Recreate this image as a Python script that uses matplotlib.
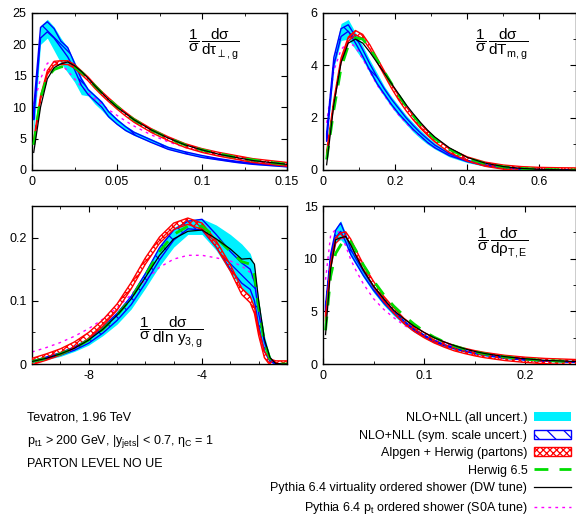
import matplotlib
matplotlib.use('Agg')
import matplotlib.pyplot as plt
from matplotlib.patches import Patch
from matplotlib.lines import Line2D
from matplotlib.ticker import MultipleLocator, FormatStrFormatter
import numpy as np

plt.rcParams['font.family'] = ['Liberation Sans', 'DejaVu Sans']
plt.rcParams['mathtext.fontset'] = 'custom'
plt.rcParams['mathtext.rm'] = 'Liberation Sans'
plt.rcParams['mathtext.it'] = 'Liberation Sans'
plt.rcParams['mathtext.sf'] = 'Liberation Sans'
plt.rcParams['mathtext.fallback'] = 'stixsans'
plt.rcParams['axes.unicode_minus'] = False
plt.rcParams['hatch.linewidth'] = 0.9

# ---- panel 1 : tau_perp,g
tau_x = [0.001, 0.005, 0.009, 0.013, 0.017, 0.021, 0.025, 0.029, 0.033, 0.037, 0.041, 0.045,
         0.05, 0.055, 0.06, 0.07, 0.08, 0.09, 0.1, 0.11, 0.12, 0.13, 0.14, 0.15]
tau_cyan_lo = [5.5, 20.0, 21.0, 19.0, 17.0, 15.5, 14.0, 12.0, 11.8, 10.5, 9.5, 8.3,
               7.2, 6.2, 5.5, 4.4, 3.3, 2.6, 2.0, 1.6, 1.2, 0.9, 0.7, 0.5]
tau_cyan_hi = [10.5, 23.0, 24.0, 22.8, 21.0, 19.5, 17.3, 14.8, 13.0, 12.0, 11.0, 9.5,
               8.2, 7.1, 6.2, 5.0, 3.8, 3.0, 2.4, 1.9, 1.5, 1.2, 0.9, 0.7]
tau_blue_lo = [8.0, 21.0, 22.0, 21.0, 19.5, 18.0, 16.0, 13.5, 12.0, 11.0, 10.0, 8.5,
               7.3, 6.3, 5.6, 4.4, 3.3, 2.6, 2.0, 1.6, 1.2, 0.9, 0.7, 0.5]
tau_blue_hi = [10.0, 22.7, 23.6, 22.5, 20.5, 19.5, 17.0, 14.5, 12.8, 11.8, 10.8, 9.3,
               8.0, 6.9, 6.0, 4.8, 3.6, 2.9, 2.3, 1.8, 1.4, 1.1, 0.9, 0.7]
tau_alpgen = [4.5, 11.5, 15.5, 17.0, 17.1, 17.1, 16.5, 15.5, 14.5, 13.3, 12.2, 11.2,
              10.0, 8.9, 7.9, 6.3, 5.0, 3.9, 3.1, 2.5, 2.0, 1.5, 1.2, 0.9]
tau_herwig = [4.0, 11.5, 14.8, 16.0, 16.4, 16.6, 16.4, 15.6, 14.6, 13.4, 12.3, 11.3,
              10.1, 9.0, 8.0, 6.4, 5.1, 4.0, 3.2, 2.6, 2.0, 1.6, 1.2, 0.9]
tau_dw = [2.8, 10.0, 14.5, 16.3, 16.9, 17.2, 16.6, 15.7, 14.6, 13.4, 12.3, 11.2,
          10.0, 9.0, 8.0, 6.4, 5.1, 4.0, 3.2, 2.5, 2.0, 1.5, 1.2, 0.9]
tau_s0a = [10.5, 14.5, 17.0, 17.2, 16.8, 15.8, 14.5, 13.3, 12.3, 11.4, 10.5, 9.6,
           8.7, 7.8, 7.0, 5.6, 4.5, 3.6, 2.9, 2.3, 1.8, 1.4, 1.1, 0.8]

# ---- panel 2 : T_m,g
tm_x = [0.01, 0.03, 0.05, 0.07, 0.09, 0.11, 0.13, 0.15, 0.17, 0.19, 0.21, 0.23,
        0.25, 0.27, 0.29, 0.31, 0.35, 0.4, 0.45, 0.5, 0.55, 0.6, 0.65, 0.7]
tm_cyan_lo = [1.0, 3.9, 4.95, 5.0, 4.6, 4.2, 3.7, 3.2, 2.8, 2.4, 2.05, 1.75,
              1.45, 1.2, 0.98, 0.8, 0.5, 0.28, 0.14, 0.06, 0.025, 0.008, 0.002, 0.0]
tm_cyan_hi = [1.5, 4.4, 5.6, 5.75, 5.25, 4.75, 4.2, 3.7, 3.2, 2.8, 2.45, 2.1,
              1.8, 1.52, 1.26, 1.03, 0.68, 0.4, 0.22, 0.12, 0.055, 0.022, 0.008, 0.0]
tm_blue_lo = [1.1, 4.0, 5.1, 5.3, 4.85, 4.35, 3.8, 3.3, 2.9, 2.5, 2.15, 1.85,
              1.55, 1.3, 1.05, 0.85, 0.55, 0.32, 0.16, 0.08, 0.035, 0.012, 0.004, 0.0]
tm_blue_hi = [1.4, 4.3, 5.4, 5.55, 5.1, 4.6, 4.05, 3.55, 3.1, 2.7, 2.35, 2.0,
              1.7, 1.42, 1.18, 0.95, 0.62, 0.37, 0.2, 0.1, 0.045, 0.018, 0.006, 0.0]
tm_alpgen = [0.6, 2.6, 4.2, 5.0, 5.25, 5.1, 4.7, 4.2, 3.7, 3.2, 2.75, 2.35,
             2.0, 1.68, 1.4, 1.15, 0.75, 0.42, 0.22, 0.11, 0.05, 0.02, 0.007, 0.0]
tm_herwig = [0.4, 2.3, 3.9, 4.75, 5.05, 5.0, 4.65, 4.2, 3.75, 3.3, 2.85, 2.45,
             2.08, 1.75, 1.45, 1.2, 0.8, 0.45, 0.24, 0.12, 0.06, 0.025, 0.01, 0.0]
tm_dw = [0.2, 2.5, 4.1, 4.85, 5.0, 4.85, 4.5, 4.1, 3.7, 3.3, 2.9, 2.5,
         2.15, 1.82, 1.52, 1.26, 0.85, 0.48, 0.26, 0.13, 0.06, 0.025, 0.01, 0.0]
tm_s0a = [1.8, 3.8, 4.6, 4.9, 4.7, 4.25, 3.75, 3.25, 2.85, 2.45, 2.1, 1.8,
          1.52, 1.28, 1.05, 0.86, 0.56, 0.33, 0.17, 0.08, 0.035, 0.012, 0.004, 0.0]

# ---- panel 3 : ln y3,g
y3_x = [-10, -9.5, -9, -8.5, -8, -7.5, -7, -6.5, -6, -5.5, -5, -4.5,
        -4, -3.5, -3, -2.6, -2.3, -2.15, -2.0, -1.8, -1.6, -1.4, -1.2, -1.0]
y3_cyan_lo = [0.002, 0.007, 0.012, 0.02, 0.03, 0.045, 0.063, 0.087, 0.12, 0.155, 0.185, 0.205,
              0.205, 0.18, 0.145, 0.12, 0.105, 0.09, 0.055, 0.018, 0.003, 0, 0, 0]
y3_cyan_hi = [0.006, 0.012, 0.019, 0.029, 0.042, 0.06, 0.083, 0.11, 0.147, 0.188, 0.216, 0.228,
              0.23, 0.22, 0.205, 0.19, 0.175, 0.155, 0.1, 0.045, 0.012, 0.002, 0, 0]
y3_blue_lo = [0.003, 0.008, 0.014, 0.022, 0.033, 0.049, 0.069, 0.094, 0.128, 0.165, 0.196, 0.214,
              0.212, 0.185, 0.15, 0.128, 0.118, 0.1, 0.06, 0.02, 0.004, 0, 0, 0]
y3_blue_hi = [0.005, 0.011, 0.018, 0.027, 0.04, 0.058, 0.08, 0.107, 0.143, 0.184, 0.212, 0.226,
              0.229, 0.205, 0.178, 0.16, 0.15, 0.13, 0.08, 0.035, 0.008, 0, 0, 0]
y3_alpgen = [0.004, 0.011, 0.019, 0.03, 0.045, 0.065, 0.09, 0.124, 0.163, 0.196, 0.218, 0.226,
             0.218, 0.19, 0.152, 0.115, 0.102, 0.085, 0.05, 0.015, 0.003, 0, 0, 0]
y3_herwig = [0.004, 0.009, 0.016, 0.025, 0.038, 0.055, 0.077, 0.104, 0.14, 0.178, 0.205, 0.218,
             0.218, 0.2, 0.178, 0.162, 0.158, 0.14, 0.09, 0.035, 0.008, 0, 0, 0]
y3_dw = [0.004, 0.009, 0.016, 0.025, 0.038, 0.055, 0.077, 0.103, 0.137, 0.172, 0.198, 0.21,
         0.212, 0.198, 0.182, 0.166, 0.167, 0.158, 0.1, 0.04, 0.01, 0.001, 0, 0]
y3_s0a = [0.019, 0.026, 0.034, 0.044, 0.056, 0.071, 0.089, 0.11, 0.133, 0.153, 0.166, 0.172,
          0.172, 0.168, 0.163, 0.155, 0.145, 0.13, 0.085, 0.035, 0.01, 0.001, 0, 0]

# ---- panel 4 : rho_T,E
rho_x = [0.0025, 0.0075, 0.0125, 0.0175, 0.0225, 0.0275, 0.0325, 0.04, 0.05, 0.06, 0.07, 0.08,
         0.09, 0.1, 0.11, 0.12, 0.13, 0.14, 0.15, 0.16, 0.18, 0.2, 0.22, 0.25]
rho_cyan_lo = [4.8, 9.5, 11.6, 11.8, 11.3, 10.2, 9.4, 8.2, 6.8, 5.6, 4.6, 3.75,
               3.05, 2.5, 2.0, 1.65, 1.38, 1.14, 0.95, 0.78, 0.52, 0.36, 0.25, 0.16]
rho_cyan_hi = [5.8, 10.6, 12.9, 13.6, 12.4, 11.1, 10.2, 9.0, 7.5, 6.2, 5.1, 4.2,
               3.45, 2.85, 2.33, 1.93, 1.6, 1.33, 1.1, 0.92, 0.63, 0.45, 0.32, 0.22]
rho_blue_lo = [5.0, 9.8, 12.0, 12.6, 11.6, 10.4, 9.6, 8.4, 7.0, 5.8, 4.8, 3.9,
               3.2, 2.6, 2.1, 1.75, 1.45, 1.2, 1.0, 0.82, 0.55, 0.38, 0.27, 0.18]
rho_blue_hi = [5.6, 10.4, 12.7, 13.4, 12.2, 10.9, 10.0, 8.8, 7.3, 6.1, 5.0, 4.1,
               3.35, 2.75, 2.25, 1.85, 1.55, 1.28, 1.06, 0.88, 0.6, 0.42, 0.3, 0.2]
rho_alpgen = [4.3, 9.3, 11.7, 12.2, 12.3, 11.6, 10.6, 9.2, 7.6, 6.2, 5.1, 4.1,
              3.35, 2.75, 2.25, 1.85, 1.5, 1.25, 1.03, 0.85, 0.58, 0.4, 0.28, 0.18]
rho_herwig = [3.2, 8.3, 10.5, 11.3, 11.9, 11.6, 10.8, 9.4, 7.9, 6.6, 5.5, 4.6,
              3.8, 3.1, 2.55, 2.1, 1.72, 1.42, 1.17, 0.97, 0.67, 0.47, 0.33, 0.22]
rho_dw = [2.8, 9.0, 11.8, 12.0, 12.1, 11.3, 10.3, 8.9, 7.4, 6.2, 5.1, 4.3,
          3.6, 3.0, 2.5, 2.1, 1.75, 1.45, 1.2, 1.0, 0.7, 0.5, 0.35, 0.24]
rho_s0a = [8.0, 12.2, 12.8, 12.3, 11.2, 9.9, 8.9, 7.6, 6.2, 5.2, 4.4, 3.7,
           3.15, 2.7, 2.3, 1.95, 1.65, 1.4, 1.2, 1.02, 0.74, 0.53, 0.38, 0.25]

labels = ['NLO+NLL (all uncert.)',
          'NLO+NLL (sym. scale uncert.)',
          'Alpgen + Herwig (partons)',
          'Herwig 6.5',
          'Pythia 6.4 virtuality ordered shower (DW tune)',
          'Pythia 6.4 p$_\\mathrm{t}$ ordered shower (S0A tune)']

CYAN = '#00f0ff'
GREEN = '#00dd00'


def draw_panel(ax, x, cyan_lo, cyan_hi, blue_lo, blue_hi, alpgen, herwig, dw, s0a, red_w):
	x = np.array(x)
	alpgen = np.array(alpgen)
	ax.fill_between(x, cyan_lo, cyan_hi, color=CYAN, linewidth=0, zorder=1)
	ax.plot(x, s0a, color='magenta', linewidth=1, linestyle=(0, (2, 3)), zorder=2)
	ax.fill_between(x, blue_lo, blue_hi, facecolor='none', edgecolor='blue',
					hatch='\\\\', linewidth=1, zorder=3)
	ax.fill_between(x, alpgen - red_w, alpgen + red_w, facecolor='none', edgecolor='red',
					hatch='xxxxx', linewidth=1, zorder=4)
	ax.plot(x, herwig, color=GREEN, linewidth=2, linestyle=(0, (5, 4)), zorder=5)
	ax.plot(x, dw, color='black', linewidth=0.9, zorder=6)


def style_axis(ax, xlim, ylim, xmaj, xmin, ymaj, ymin, xfmt, yfmt):
	ax.set_xlim(*xlim)
	ax.set_ylim(*ylim)
	ax.xaxis.set_major_locator(MultipleLocator(xmaj))
	ax.xaxis.set_minor_locator(MultipleLocator(xmin))
	ax.yaxis.set_major_locator(MultipleLocator(ymaj))
	if ymin:
		ax.yaxis.set_minor_locator(MultipleLocator(ymin))
	ax.xaxis.set_major_formatter(FormatStrFormatter(xfmt))
	ax.yaxis.set_major_formatter(FormatStrFormatter(yfmt))
	ax.tick_params(which='both', direction='in', top=True, right=True, labelsize=9, pad=4)
	ax.tick_params(which='major', length=4)
	ax.tick_params(which='minor', length=2.5)
	for s in ax.spines.values():
		s.set_linewidth(1)


fig = plt.figure(figsize=(5.76, 5.17), dpi=100)
ax1 = fig.add_axes([0.0556, 0.6712, 0.4427, 0.3037])
ax2 = fig.add_axes([0.5608, 0.6712, 0.4384, 0.3037])
ax3 = fig.add_axes([0.0556, 0.2959, 0.4427, 0.3056])
ax4 = fig.add_axes([0.5608, 0.2959, 0.4384, 0.3056])

draw_panel(ax1, tau_x, tau_cyan_lo, tau_cyan_hi, tau_blue_lo, tau_blue_hi,
		   tau_alpgen, tau_herwig, tau_dw, tau_s0a, 0.3)
style_axis(ax1, (0, 0.15), (0, 25), 0.05, 0.025, 5, None, '%g', '%g')
ax1.text(0.61, 0.91, r'$\dfrac{1}{\sigma}\,\dfrac{\mathrm{d}\sigma}{\mathrm{d}\tau_{\perp,\mathrm{g}}}$',
		 transform=ax1.transAxes, fontsize=11, va='top', ha='left')

draw_panel(ax2, tm_x, tm_cyan_lo, tm_cyan_hi, tm_blue_lo, tm_blue_hi,
		   tm_alpgen, tm_herwig, tm_dw, tm_s0a, 0.08)
style_axis(ax2, (0, 0.7), (0, 6), 0.2, 0.1, 2, 1, '%g', '%g')
ax2.text(0.6, 0.91, r'$\dfrac{1}{\sigma}\,\dfrac{\mathrm{d}\sigma}{\mathrm{dT_{m,g}}}$',
		 transform=ax2.transAxes, fontsize=11, va='top', ha='left')

draw_panel(ax3, y3_x, y3_cyan_lo, y3_cyan_hi, y3_blue_lo, y3_blue_hi,
		   y3_alpgen, y3_herwig, y3_dw, y3_s0a, 0.005)
style_axis(ax3, (-10, -1), (0, 0.25), 4, 1, 0.1, 0.05, '%g', '%g')
ax3.text(0.42, 0.31, r'$\dfrac{1}{\sigma}\,\dfrac{\mathrm{d}\sigma}{\mathrm{dln\ y_{3,g}}}$',
		 transform=ax3.transAxes, fontsize=11, va='top', ha='left')

draw_panel(ax4, rho_x, rho_cyan_lo, rho_cyan_hi, rho_blue_lo, rho_blue_hi,
		   rho_alpgen, rho_herwig, rho_dw, rho_s0a, 0.25)
style_axis(ax4, (0, 0.25), (0, 15), 0.1, 0.05, 5, 2.5, '%g', '%g')
ax4.text(0.61, 0.88, r'$\dfrac{1}{\sigma}\,\dfrac{\mathrm{d}\sigma}{\mathrm{d}\rho_{\mathrm{T,E}}}$',
		 transform=ax4.transAxes, fontsize=11, va='top', ha='left')

# left hand annotations
fig.text(27/576, 1-418/517, 'Tevatron, 1.96 TeV', fontsize=9, va='center')
fig.text(27/576, 1-441/517, 'p$_\\mathrm{t1}$ > 200 GeV, |y$_\\mathrm{jets}$| < 0.7, η$_\\mathrm{C}$ = 1',
		 fontsize=9, va='center')
fig.text(27/576, 1-464/517, 'PARTON LEVEL NO UE', fontsize=9, va='center')

handles = [Patch(facecolor=CYAN, edgecolor='none'),
		   Patch(facecolor='none', edgecolor='blue', hatch='\\\\'),
		   Patch(facecolor='none', edgecolor='red', hatch='xxxxx'),
		   Line2D([], [], color=GREEN, linewidth=2, linestyle=(0, (5, 4))),
		   Line2D([], [], color='black', linewidth=0.9),
		   Line2D([], [], color='magenta', linewidth=1, linestyle=(0, (2, 3)))]
fig.legend(handles, labels, loc='lower right', bbox_to_anchor=(571/576, 1/517),
		   frameon=False, fontsize=9, markerfirst=False, borderpad=0, borderaxespad=0,
		   handlelength=3.0, handletextpad=0.5, labelspacing=0.45)

plt.savefig('out.png', dpi=100)
